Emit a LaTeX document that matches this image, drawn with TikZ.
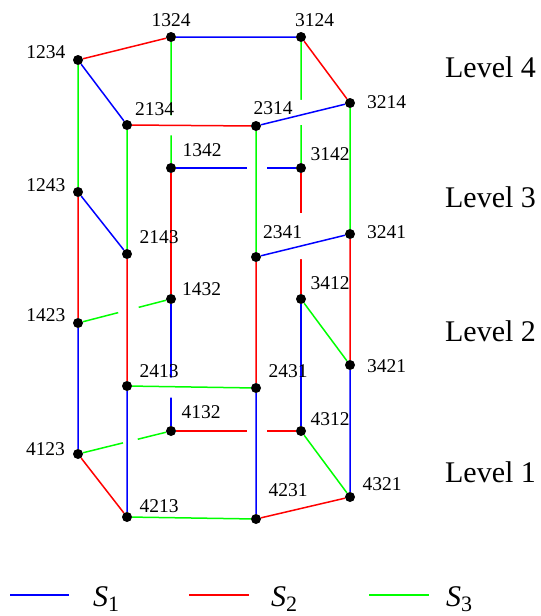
\documentclass[tikz,border=0pt]{standalone}
\usepackage{fontspec}
\setmainfont{Liberation Serif}
\usetikzlibrary{calc}

\begin{document}
\begin{tikzpicture}[x=1pt,y=-1pt,
  dot/.style={circle,fill=black,inner sep=0pt,minimum size=10pt},
  lab/.style={inner sep=0pt,font=\fontsize{19.5}{20}\selectfont},
  lev/.style={inner sep=0pt,font=\fontsize{30}{32}\selectfont},
  sone/.style={blue,line width=1.5pt},
  stwo/.style={red,line width=1.5pt},
  sthree/.style={green,line width=1.5pt},
  gapline/.style={white,line width=4pt}]
\useasboundingbox (0,0) rectangle (541,616);
% vertices, level 4
\node[dot] (v1234) at (78,60) {};
\node[dot] (v1324) at (171,37) {};
\node[dot] (v3124) at (301,37) {};
\node[dot] (v3214) at (350,103) {};
\node[dot] (v2134) at (127,125) {};
\node[dot] (v2314) at (256,126) {};
% level 3
\node[dot] (v1342) at (171,168) {};
\node[dot] (v3142) at (301,168) {};
\node[dot] (v1243) at (78,192) {};
\node[dot] (v2143) at (127,254) {};
\node[dot] (v2341) at (256,257) {};
\node[dot] (v3241) at (350,234) {};
% level 2
\node[dot] (v1432) at (171,299) {};
\node[dot] (v3412) at (301,299) {};
\node[dot] (v1423) at (78,323) {};
\node[dot] (v2413) at (127,386) {};
\node[dot] (v2431) at (256,388) {};
\node[dot] (v3421) at (350,365) {};
% level 1
\node[dot] (v4132) at (171,431) {};
\node[dot] (v4312) at (301,431) {};
\node[dot] (v4123) at (78,454) {};
\node[dot] (v4213) at (127,517) {};
\node[dot] (v4231) at (256,519) {};
\node[dot] (v4321) at (350,497) {};

% hidden edges
\draw[sone] (v1342) -- (v3142) (v1432) -- (v4132) (v3412) -- (v4312);
\draw[stwo] (v1342) -- (v1432) (v3142) -- (v3412) (v4132) -- (v4312);
\draw[sthree] (v1324) -- (v1342) (v3124) -- (v3142) (v1432) -- (v1423)
  (v3412) -- (v3421) (v4123) -- (v4132) (v4312) -- (v4321);

% breaks where hidden edges pass behind
\coordinate (k1) at (intersection of v1324.center--v1342.center and v2134.center--v2314.center);
\coordinate (k2) at (intersection of v3124.center--v3142.center and v2314.center--v3214.center);
\coordinate (k3) at (intersection of v1342.center--v3142.center and v2314.center--v2341.center);
\coordinate (k4) at (intersection of v3142.center--v3412.center and v2341.center--v3241.center);
\coordinate (k5) at (intersection of v1432.center--v1423.center and v2143.center--v2413.center);
\coordinate (k6) at (intersection of v1432.center--v4132.center and v2413.center--v2431.center);
\coordinate (k7) at (intersection of v4132.center--v4312.center and v2431.center--v4231.center);
\coordinate (k8) at (intersection of v4123.center--v4132.center and v2413.center--v4213.center);
\draw[gapline] ($(k1)!10pt!(v1324)$) -- ($(k1)!10pt!(v1342)$);
\draw[gapline] ($(k2)!15pt!(v3124)$) -- ($(k2)!10pt!(v3142)$);
\draw[gapline] ($(k3)!9pt!(v1342)$) -- ($(k3)!11pt!(v3142)$);
\draw[gapline] ($(k4)!33pt!(v3142)$) -- ($(k4)!13pt!(v3412)$);
\draw[gapline] ($(k5)!9pt!(v1423)$) -- ($(k5)!12pt!(v1432)$);
\draw[gapline] ($(k6)!9pt!(v1432)$) -- ($(k6)!11pt!(v4132)$);
\draw[gapline] ($(k7)!9pt!(v4132)$) -- ($(k7)!11pt!(v4312)$);
\draw[gapline] ($(k8)!4pt!(v4123)$) -- ($(k8)!11pt!(v4132)$);

% visible edges
\draw[sone] (v1324) -- (v3124) (v1234) -- (v2134) (v2314) -- (v3214)
  (v1243) -- (v2143) (v2341) -- (v3241) (v1423) -- (v4123)
  (v2413) -- (v4213) (v2431) -- (v4231) (v3421) -- (v4321);
\draw[stwo] (v1234) -- (v1324) (v3124) -- (v3214) (v2134) -- (v2314)
  (v1243) -- (v1423) (v2143) -- (v2413) (v2341) -- (v2431)
  (v3241) -- (v3421) (v4123) -- (v4213) (v4231) -- (v4321);
\draw[sthree] (v1234) -- (v1243) (v2134) -- (v2143) (v2314) -- (v2341)
  (v3214) -- (v3241) (v2413) -- (v2431) (v4213) -- (v4231);

% vertex labels
\node[lab] (t1234) at (46,52) {1234};
\node[lab] (t1324) at (171,20.5) {1324};
\node[lab] (t3124) at (314.5,20.5) {3124};
\node[lab] (t3214) at (386.5,102) {3214};
\node[lab] (t2134) at (154.5,109) {2134};
\node[lab] (t2314) at (273,108.5) {2314};
\node[lab] (t1342) at (202,150) {1342};
\node[lab] (t3142) at (330,154.5) {3142};
\node[lab] (t1243) at (46,185) {1243};
\node[lab] (t2143) at (159,237.5) {2143};
\node[lab] (t2341) at (282.5,232.5) {2341};
\node[lab] (t3241) at (386.5,232.5) {3241};
\node[lab] (t1432) at (201.5,289.5) {1432};
\node[lab] (t3412) at (330,283.5) {3412};
\node[lab] (t1423) at (46,315) {1423};
\node[lab] (t2413) at (159,371.5) {2413};
\node[lab] (t2431) at (288,371.5) {2431};
\node[lab] (t3421) at (386.5,366) {3421};
\node[lab] (t4132) at (201,412.5) {4132};
\node[lab] (t4312) at (330,419) {4312};
\node[lab] (t4123) at (45.5,449.5) {4123};
\node[lab] (t4213) at (159,506) {4213};
\node[lab] (t4231) at (288,490) {4231};
\node[lab] (t4321) at (382,484.5) {4321};

% levels
\node[lev] (lev4) at (490.5,67.5) {Level 4};
\node[lev] (lev3) at (490.5,197) {Level 3};
\node[lev] (lev2) at (490.5,331) {Level 2};
\node[lev] (lev1) at (490.5,472) {Level 1};

% legend
\draw[sone] (10,595) -- (69,595);
\draw[stwo] (189,595) -- (249,595);
\draw[sthree] (369,595) -- (429,595);
\node[lev,anchor=base west] (key1) at (93,606) {\textit{S}\raisebox{-5.5pt}{\fontsize{22}{22}\selectfont 1}};
\node[lev,anchor=base west] (key2) at (271,606) {\textit{S}\raisebox{-5.5pt}{\fontsize{22}{22}\selectfont 2}};
\node[lev,anchor=base west] (key3) at (446,606) {\textit{S}\raisebox{-5.5pt}{\fontsize{22}{22}\selectfont 3}};
\end{tikzpicture}
\end{document}
